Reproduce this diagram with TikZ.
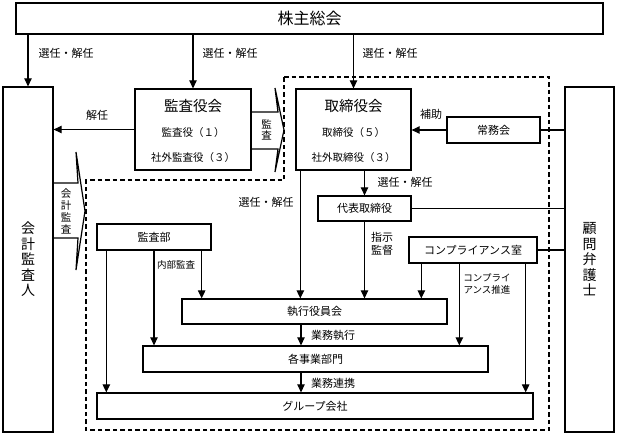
\documentclass[tikz,border=0pt]{standalone}
\usepackage{fontspec}
\setmainfont{Noto Sans CJK JP}
\usetikzlibrary{arrows.meta}
\begin{document}
\begin{tikzpicture}[x=1pt,y=-1pt,
  box/.style={draw, line width=1.3pt, inner sep=0pt, font=\fontsize{11}{12}\selectfont},
  vbox/.style={box, align=center, font=\fontsize{14}{15.5}\selectfont},
  ttl/.style={inner sep=0pt, font=\fontsize{14.5}{16}\selectfont},
  sub/.style={inner sep=0pt, font=\fontsize{10.5}{12}\selectfont},
  lbl/.style={inner sep=0pt, font=\fontsize{11}{12}\selectfont},
  sml/.style={inner sep=0pt, align=center, font=\fontsize{9.5}{12}\selectfont},
  arr/.style={line width=1.1pt, -{Triangle[length=8pt,width=7.5pt]}},
  ln/.style={line width=1.1pt},
  blk/.style={line width=1.2pt, line join=miter},
  dsh/.style={line width=1.4pt, dash pattern=on 4.5pt off 3pt}
]
\useasboundingbox (0,0) rectangle (620,437);

% boxes
\node[box, minimum width=587pt, minimum height=31pt, font=\fontsize{16}{18}\selectfont] (gm) at (309.5,18.5) {株主総会};
\node[vbox, minimum width=50pt, minimum height=345pt] (ca) at (28,259.5) {会\\計\\監\\査\\人};
\node[vbox, minimum width=49pt, minimum height=345pt] (kb) at (589.5,259.5) {顧\\問\\弁\\護\\士};
\node[box, minimum width=116pt, minimum height=81pt] (ka) at (193,129.5) {};
\node[ttl] (kat) at (193,106) {監査役会};
\node[sub] (ka1) at (193,133) {監査役（１）};
\node[sub] (ka2) at (193,158) {社外監査役（３）};
\node[box, minimum width=115pt, minimum height=81pt] (tr) at (353.5,129.5) {};
\node[ttl] (trt) at (353.5,106) {取締役会};
\node[sub] (tr1) at (353.5,133) {取締役（５）};
\node[sub] (tr2) at (353.5,158) {社外取締役（３）};
\node[box, minimum width=93pt, minimum height=26pt] (jm) at (493.5,130) {常務会};
\node[box, minimum width=93pt, minimum height=25pt] (dt) at (364.5,208.5) {代表取締役};
\node[box, minimum width=128pt, minimum height=26pt] (cp) at (473,250) {コンプライアンス室};
\node[box, minimum width=114pt, minimum height=26pt] (ab) at (154,237) {監査部};
\node[box, minimum width=265pt, minimum height=25pt] (ex) at (314.5,311.5) {執行役員会};
\node[box, minimum width=345pt, minimum height=26pt] (bu) at (315.5,359) {各事業部門};
\node[box, minimum width=436pt, minimum height=26pt] (gr) at (315,406) {グループ会社};

% dashed boundary
\draw[dsh] (284,77) -- (549,77) -- (549,430) -- (86,430) -- (86,180) -- (284,180) -- cycle;

% block arrows (監査 / 会計監査)
\draw[blk] (251,112) -- (278,112) -- (275,88) -- (284,130) -- (275,172) -- (278,149) -- (251,149);
\node[sml, font=\fontsize{10.5}{11.5}\selectfont] (kasa) at (266.5,130) {監\\査};
\draw[blk] (53,183) -- (78,183) -- (76,152) -- (85,211) -- (76,270) -- (78,238) -- (53,238);
\node[sml, font=\fontsize{10.5}{12}\selectfont] (kaikei) at (66,211) {会\\計\\監\\査};

% connectors from 株主総会
\draw[arr] (gm.south -| ca.north) -- (ca.north);
\draw[arr] (gm.south -| ka.north) -- (ka.north);
\draw[arr] (gm.south -| tr.north) -- (tr.north);
\node[lbl] at (66,53) {選任・解任};
\node[lbl] at (230,53) {選任・解任};
\node[lbl] at (390,53) {選任・解任};

% 監査役会 -> 会計監査人
\draw[arr] (ka.west) -- (ca.east |- ka.west);
\node[lbl] at (97,115) {解任};

% 常務会 -> 取締役会
\draw[arr] (jm.west) -- (tr.east |- jm.west);
\node[lbl] at (431,114) {補助};
\draw[ln] (jm.east) -- (kb.west |- jm.east);

% 取締役会 -> 代表取締役
\draw[arr] (tr.south -| dt.north) -- (dt.north);
\node[lbl] at (405,182) {選任・解任};
\draw[ln] (dt.east) -- (kb.west |- dt.east);
\draw[ln] (cp.east) -- (kb.west |- cp.east);

% 取締役会 -> 執行役員会
\draw[arr] ([xshift=5pt]tr.south west) -- ([xshift=5pt]tr.south west |- ex.north);
\node[lbl] at (266,202) {選任・解任};

% 代表取締役 -> 執行役員会
\draw[arr] (dt.south) -- (dt.south |- ex.north);
\node[lbl] at (382,237) {指示};
\node[lbl] at (382,250) {監督};

% 監査部 arrows
\draw[arr] ([xshift=10pt]ab.south west) -- ([xshift=10pt]ab.south west |- gr.north);
\draw[arr] (ab.south) -- (ab.south |- bu.north);
\draw[arr] ([xshift=-10pt]ab.south east) -- ([xshift=-10pt]ab.south east |- ex.north);
\node[sml] at (176,265) {内部監査};

% コンプライアンス室 arrows
\draw[arr] ([xshift=13pt]cp.south west) -- ([xshift=13pt]cp.south west |- ex.north);
\draw[arr] ([xshift=51pt]cp.south west) -- ([xshift=51pt]cp.south west |- bu.north);
\draw[arr] ([xshift=-12pt]cp.south east) -- ([xshift=-12pt]cp.south east |- gr.north);
\node[sml] at (487,284) {コンプライ\\アンス推進};

% execution chain
\draw[arr] ([xshift=-13.5pt]ex.south) -- ([xshift=-13.5pt]ex.south |- bu.north);
\node[lbl] at (333,335) {業務執行};
\draw[arr] ([xshift=-14.5pt]bu.south) -- ([xshift=-14.5pt]bu.south |- gr.north);
\node[lbl] at (333,383) {業務連携};
\end{tikzpicture}
\end{document}
